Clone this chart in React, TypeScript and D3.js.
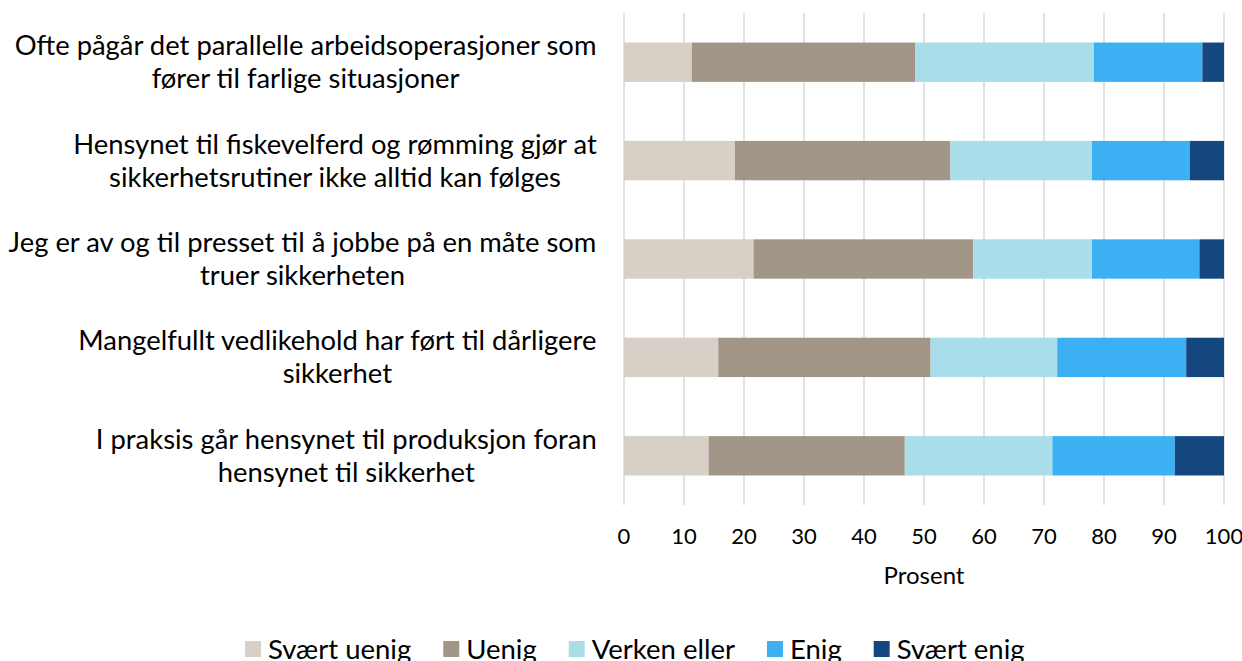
import React, { useMemo } from "react";
import * as d3 from "d3";

const categories = [
  ["Ofte pågår det parallelle arbeidsoperasjoner som", "fører til farlige situasjoner"],
  ["Hensynet til fiskevelferd og rømming gjør at", "sikkerhetsrutiner ikke alltid kan følges"],
  ["Jeg er av og til presset til å jobbe på en måte som", "truer sikkerheten"],
  ["Mangelfullt vedlikehold har ført til dårligere", "sikkerhet"],
  ["I praksis går hensynet til produksjon foran", "hensynet til sikkerhet"],
];
const seriesNames = ["Svært uenig", "Uenig", "Verken eller", "Enig", "Svært enig"];
const svaertUenig = [11.3, 18.5, 21.6, 15.7, 14.1];
const uenig = [37.2, 35.9, 36.6, 35.4, 32.7];
const verken = [29.8, 23.6, 19.8, 21.1, 24.6];
const enig = [18.1, 16.3, 17.9, 21.5, 20.4];
const svaertEnig = [3.6, 5.7, 4.1, 6.3, 8.2];
const xTicks = [0, 10, 20, 30, 40, 50, 60, 70, 80, 90, 100];
const colors = ["#d7d0c6", "#a29689", "#a8dde9", "#3cb0f2", "#144780"];

const FONT = "Lato, 'Open Sans', sans-serif";
const LABEL_SIZE = 27.4;
const LEGEND_SIZE = 27.5;

function measure(text: string, size: number) {
  const c = document.createElement("canvas");
  const ctx = c.getContext("2d")!;
  ctx.font = `${size}px Lato`;
  return ctx.measureText(text).width;
}

export default function App() {
  const W = 1242, H = 661;
  const x = d3.scaleLinear().domain([0, 100]).range([624, 1224]);
  const keys = categories.map((c) => c.join(" "));
  const y = d3.scaleBand<string>().domain(keys).range([13, 505]).paddingInner(0.6).paddingOuter(0.3);
  const data = keys.map((k, i) => ({
    key: k,
    v: [svaertUenig[i], uenig[i], verken[i], enig[i], svaertEnig[i]],
  }));
  const labelW = useMemo(
    () => categories.map((lines) => Math.max(...lines.map((l) => measure(l, LABEL_SIZE)))),
    []
  );
  const legendItems = useMemo(() => {
    let cx = 245;
    return seriesNames.map((n, i) => {
      const item = { n, i, x: cx };
      cx += 16 + 7 + measure(n, LEGEND_SIZE) + 32;
      return item;
    });
  }, []);

  return (
    <svg width={W} height={H} style={{ display: "block", position: "absolute", left: 0, top: 0, background: "#fff" }} fontFamily={FONT}>
      {xTicks.map((t) => (
        <line key={t} x1={x(t)} x2={x(t)} y1={13} y2={505} stroke="#d9d9d9" strokeWidth={1.5} />
      ))}
      {data.map((d) => {
        let acc = 0;
        return (
          <g key={d.key}>
            {d.v.map((v, j) => {
              const x0 = acc;
              acc += v;
              return (
                <rect key={j} x={x(x0)} y={y(d.key)} width={x(Math.min(acc, 100)) - x(x0)} height={y.bandwidth()} fill={colors[j]} />
              );
            })}
          </g>
        );
      })}
      {categories.map((lines, i) => {
        const cy = y(keys[i])! + y.bandwidth() / 2;
        const cx = 597 - labelW[i] / 2;
        return (
          <text key={i} fontSize={LABEL_SIZE} fill="#000" textAnchor="middle">
            <tspan x={cx} y={cy - 16.5} dy="0.35em">{lines[0]}</tspan>
            <tspan x={cx} y={cy + 16.5} dy="0.35em">{lines[1]}</tspan>
          </text>
        );
      })}
      {xTicks.map((t) => (
        <text key={t} x={x(t)} y={536} dy="0.35em" textAnchor="middle" fontSize={22} fill="#000">{t}</text>
      ))}
      <text x={x(50)} y={576} dy="0.35em" textAnchor="middle" fontSize={24} fill="#000">Prosent</text>
      {legendItems.map((it) => (
        <g key={it.n}>
          <rect x={it.x} y={641} width={16} height={16} fill={colors[it.i]} />
          <text x={it.x + 23} y={649} dy="0.35em" fontSize={LEGEND_SIZE} fill="#000">{it.n}</text>
        </g>
      ))}
    </svg>
  );
}
